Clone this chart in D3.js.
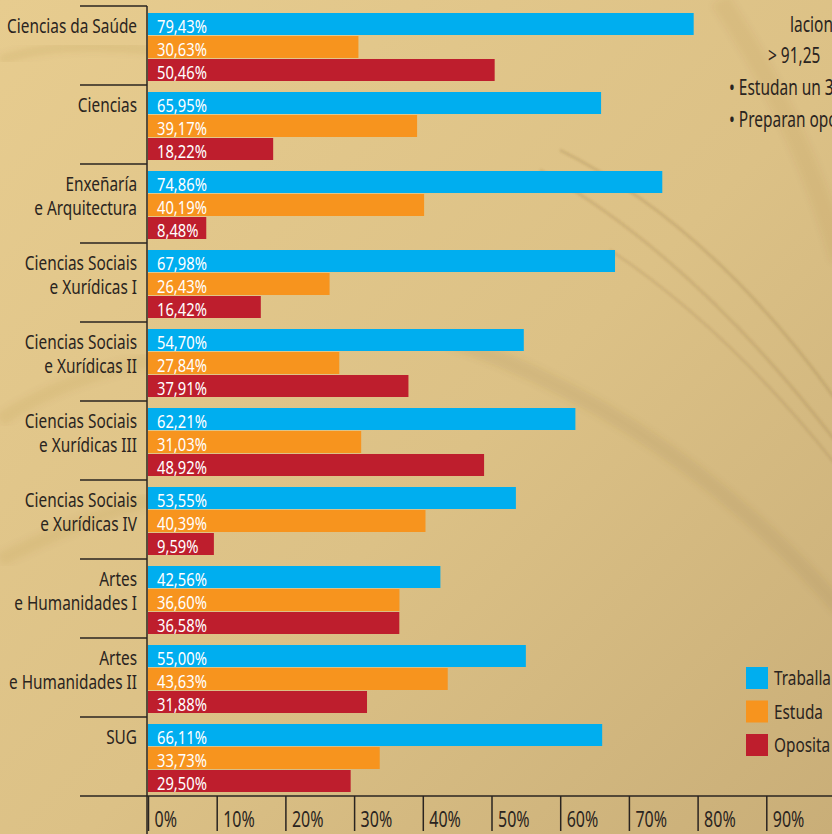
<!DOCTYPE html>
<html>
<head>
<meta charset="utf-8">
<script src="https://cdn.jsdelivr.net/npm/d3@7/dist/d3.min.js"></script>
<style>
  html, body { margin: 0; padding: 0; overflow: hidden; }
  svg { display: block; font-family: "Noto Sans", "Open Sans", sans-serif; }
</style>
</head>
<body>
<svg id="chart" width="832" height="834"></svg>
<script>
// one entry per area, lines of the label
const categories = [
  ['Ciencias da Saúde'],
  ['Ciencias'],
  ['Enxeñaría', 'e Arquitectura'],
  ['Ciencias Sociais', 'e Xurídicas I'],
  ['Ciencias Sociais', 'e Xurídicas II'],
  ['Ciencias Sociais', 'e Xurídicas III'],
  ['Ciencias Sociais', 'e Xurídicas IV'],
  ['Artes', 'e Humanidades I'],
  ['Artes', 'e Humanidades II'],
  ['SUG']
];
const series = ['Traballa', 'Estuda', 'Oposita'];
const traballa = [79.43, 65.95, 74.86, 67.98, 54.70, 62.21, 53.55, 42.56, 55.00, 66.11];
const estuda   = [30.63, 39.17, 40.19, 26.43, 27.84, 31.03, 40.39, 36.60, 43.63, 33.73];
const oposita  = [50.46, 18.22,  8.48, 16.42, 37.91, 48.92,  9.59, 36.58, 31.88, 29.50];
const xTicks = [0, 10, 20, 30, 40, 50, 60, 70, 80, 90];
const sideText = ['lacion', '> 91,25', '• Estudan un 3', '• Preparan opo'];

const colors = {Traballa: '#00aeef', Estuda: '#f7941e', Oposita: '#be1e2d'};
const values = {Traballa: traballa, Estuda: estuda, Oposita: oposita};
const ink = '#2a2420';

const W = 832, H = 834;
const svg = d3.select('#chart');

// width of a string at a size, to get the condensed look of the original face
function measure(str, size)
{
  const t = svg.append('text').attr('font-size', size).text(str);
  const w = t.node().getComputedTextLength();
  t.remove();
  return w;
}

const sqCat    = 130 / measure('Ciencias da Saúde', 19.5);
const sqVal    = 50 / measure('79,43%', 17.5);
const sqTick   = 31.6 / measure('10%', 21);
const sqLegend = 57 / measure('Traballa', 20.5);
const sqSide   = 82 / measure('Estudan un', 22.5);

// places a narrow text: group at (x,y) squeezed horizontally
function narrow(parent, x, y, str, size, fill, sx, anchor)
{
  const g = parent.append('g')
    .attr('transform', 'translate(' + x + ',' + y + ') scale(' + sx + ',1)');
  g.append('text')
    .attr('font-size', size)
    .attr('fill', fill)
    .attr('text-anchor', anchor || 'start')
    .text(str);
  return g;
}

// background paper
const defs = svg.append('defs');
const bg = defs.append('linearGradient').attr('id', 'bg')
  .attr('x1', 0).attr('y1', 0).attr('x2', 1).attr('y2', 1);
bg.append('stop').attr('offset', '0%').attr('stop-color', '#e7cc8f');
bg.append('stop').attr('offset', '55%').attr('stop-color', '#dcc186');
bg.append('stop').attr('offset', '100%').attr('stop-color', '#c9ae78');
defs.append('filter').attr('id', 'blur').append('feGaussianBlur').attr('stdDeviation', 3);
defs.append('filter').attr('id', 'blur2').append('feGaussianBlur').attr('stdDeviation', 1.2);

svg.insert('rect', ':first-child').attr('width', W).attr('height', H).attr('fill', 'url(#bg)');

const texture = svg.append('g');
const arcs = [
  {d: 'M 560 150 Q 720 230 850 420', w: 3, o: 0.18, f: 'blur2'},
  {d: 'M 540 170 Q 700 260 850 460', w: 3, o: 0.16, f: 'blur2'},
  {d: 'M 610 250 Q 730 330 840 470', w: 2.5, o: 0.15, f: 'blur2'},
  {d: 'M 450 340 Q 680 420 850 620', w: 16, o: 0.10, f: 'blur'},
  {d: 'M 0 60 Q 60 40 150 50', w: 10, o: 0.08, f: 'blur'},
  {d: 'M 0 420 Q 60 380 150 360', w: 14, o: 0.07, f: 'blur'},
  {d: 'M 0 560 Q 80 520 150 500', w: 14, o: 0.07, f: 'blur'},
  {d: 'M 720 0 Q 800 120 840 260', w: 20, o: 0.06, f: 'blur'}
];
texture.selectAll('path').data(arcs).join('path')
  .attr('d', d => d.d)
  .attr('fill', 'none')
  .attr('stroke', '#7a5a28')
  .attr('stroke-opacity', d => d.o)
  .attr('stroke-width', d => d.w)
  .attr('filter', d => 'url(#' + d.f + ')');

// scales
const x = d3.scaleLinear().domain([0, 100]).range([148, 835]);
const y = d3.scaleBand().domain(d3.range(categories.length)).range([6, 796]);
const ySub = d3.scaleBand().domain(series).range([7, 75]).paddingInner(1 / 23);

const fmt = d3.formatLocale({decimal: ',', thousands: '.', grouping: [3], currency: ['', '€']}).format('.2f');

// bars
const groups = svg.append('g').selectAll('g')
  .data(categories.map((c, i) => i))
  .join('g')
  .attr('transform', i => 'translate(0,' + y(i) + ')');

groups.selectAll('rect')
  .data(i => series.map(s => ({s: s, v: values[s][i]})))
  .join('rect')
  .attr('x', x(0))
  .attr('y', d => ySub(d.s))
  .attr('width', d => x(d.v) - x(0))
  .attr('height', ySub.bandwidth())
  .attr('fill', d => colors[d.s]);

groups.each(function(i) {
  const g = d3.select(this);
  series.forEach(s => {
    narrow(g, x(0) + 9, ySub(s) + ySub.bandwidth() / 2 + 8.5, fmt(values[s][i]) + '%', 17.5, '#fff', sqVal);
  });
  // category label
  categories[i].forEach((line, j) => {
    narrow(g, 137, 27 + j * 23.5, line, 19.5, ink, sqCat, 'end');
  });
});

// separators between areas
const seps = categories.map((c, i) => y(i));
svg.append('g').selectAll('line')
  .data(seps)
  .join('line')
  .attr('x1', 80).attr('x2', 147)
  .attr('y1', d => d).attr('y2', d => d)
  .attr('stroke', ink).attr('stroke-width', 1.5);

// x axis
const xAxis = svg.append('g')
  .attr('transform', 'translate(0,' + y.range()[1] + ')')
  .call(d3.axisBottom(x).tickValues(xTicks).tickSize(35).tickFormat(d => d + '%'));
xAxis.select('.domain').remove();
xAxis.selectAll('.tick line').attr('stroke', ink).attr('stroke-width', 1.5);
xAxis.selectAll('.tick text')
  .attr('fill', ink)
  .attr('font-size', 21)
  .attr('font-family', '"Noto Sans", "Open Sans", sans-serif')
  .attr('text-anchor', 'start')
  .attr('x', 0)
  .attr('y', 0)
  .attr('dy', 0)
  .attr('transform', 'translate(6,30.5) scale(' + sqTick + ',1)');

svg.append('line')
  .attr('x1', 80).attr('x2', W)
  .attr('y1', y.range()[1]).attr('y2', y.range()[1])
  .attr('stroke', ink).attr('stroke-width', 1.5);

svg.append('line')
  .attr('x1', 147).attr('x2', 147)
  .attr('y1', 6).attr('y2', H)
  .attr('stroke', ink).attr('stroke-width', 1.5);

// legend
const legend = svg.append('g').attr('transform', 'translate(746,667)');
series.forEach((s, i) => {
  legend.append('rect')
    .attr('y', i * 33.5)
    .attr('width', 22).attr('height', 22)
    .attr('fill', colors[s]);
  narrow(legend, 28, i * 33.5 + 18, s, 20.5, ink, sqLegend);
});

// text from the neighbouring column, cut by the page edge
const sideX = [790, 768, 729, 729];
const sideY = [32, 63, 95, 127];
const side = svg.append('g');
sideText.forEach((t, i) => narrow(side, sideX[i], sideY[i], t, 22.5, ink, sqSide));
</script>
</body>
</html>
